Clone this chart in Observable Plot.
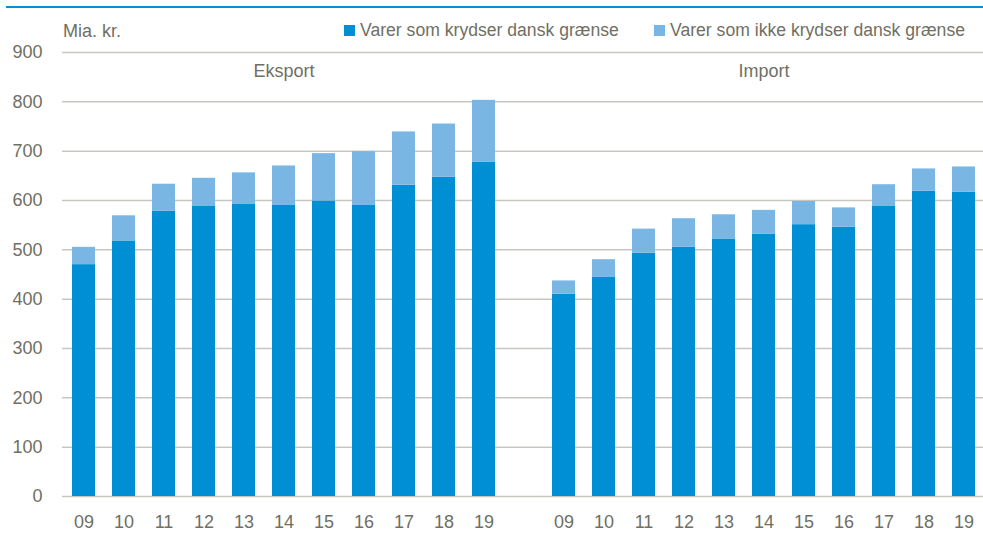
<!DOCTYPE html>
<html>
<head>
<meta charset="utf-8">
<script src="https://cdn.jsdelivr.net/npm/d3@7"></script>
<script src="https://cdn.jsdelivr.net/npm/@observablehq/plot@0.6"></script>
<style>
  body { margin: 0; background: #fff; }
  #wrap { position: relative; width: 983px; height: 533px; font-family: "Liberation Sans Narrow", "Arial Narrow", "Liberation Sans", sans-serif; color: #706f63; }
  #topline { position: absolute; left: 6px; right: 0; top: 6px; height: 2px; background: #0090d4; }
  #unit { position: absolute; left: 63px; top: 20px; font-size: 18px; line-height: 22px; }
  .leg { position: absolute; top: 19px; font-size: 17.6px; line-height: 22px; white-space: nowrap; display: flex; align-items: center; }
  .sw { display: inline-block; width: 11px; height: 11px; margin-right: 5px; }
</style>
</head>
<body>
<div id="wrap">
  <div id="topline"></div>
  <div id="unit">Mia. kr.</div>
  <div class="leg" id="leg1" style="left:344px"><span class="sw" style="background:#008fd5"></span><span>Varer som krydser dansk grænse</span></div>
  <div class="leg" id="leg2" style="left:654px"><span class="sw" style="background:#7ab6e3"></span><span>Varer som ikke krydser dansk grænse</span></div>
</div>
<script>
// Categories
const years = ["09", "10", "11", "12", "13", "14", "15", "16", "17", "18", "19"];
const groups = ["Eksport", "Import"];
const seriesNames = ["Varer som krydser dansk grænse", "Varer som ikke krydser dansk grænse"];
const yTicks = [0, 100, 200, 300, 400, 500, 600, 700, 800, 900];

// Values (mia. kr.)
const eksportCross    = [470, 518, 578, 589, 593, 591, 599, 591, 631, 647, 678];
const eksportNonCross = [35, 51, 55, 56, 63, 79, 96, 108, 108, 108, 125];
const importCross     = [410, 445, 493, 505, 522, 532, 551, 546, 589, 619, 617];
const importNonCross  = [27, 35, 49, 58, 49, 48, 47, 39, 43, 45, 51];

const colors = ["#008fd5", "#7ab6e3"];

// Build table
const rows = [];
const src = [[eksportCross, eksportNonCross], [importCross, importNonCross]];
groups.forEach((g, gi) => {
  years.forEach((yr, i) => {
    seriesNames.forEach((s, si) => {
      rows.push({key: g[0] + yr, group: g, year: yr, series: s, value: src[gi][si][i]});
    });
  });
});
const domainX = [...years.map(y => "E" + y), "gap", ...years.map(y => "I" + y)];
const groupLabels = groups.map(g => ({key: g[0] + years[5], label: g}));
const fmtX = d => d === "gap" ? "" : d.slice(1);

const font = '"Liberation Sans Narrow", "Arial Narrow", "Liberation Sans", sans-serif';

const chart = Plot.plot({
  width: 983,
  height: 533,
  marginLeft: 62,
  marginRight: 0,
  marginTop: 52,
  marginBottom: 37,
  style: {fontFamily: font, fontSize: "18px", color: "#706f63", background: "transparent", overflow: "visible"},
  x: {domain: domainX, range: [61.4, 986], paddingInner: 0.43, paddingOuter: 0.215, tickFormat: fmtX, label: null},
  y: {domain: [0, 900], ticks: yTicks, label: null},
  color: {domain: seriesNames, range: colors},
  marks: [
    Plot.ruleY(yTicks, {stroke: "#c8c7bf", strokeWidth: 1.5}),
    Plot.barY(rows, Plot.stackY({x: "key", y: "value", fill: "series", order: seriesNames})),
    Plot.text(groupLabels, {x: "key", y: 862, text: "label", fill: "#706f63", fontSize: 18}),
    Plot.axisY({ticks: yTicks, tickSize: 0, tickPadding: 20, fontSize: 18, fill: "#706f63", label: null}),
    Plot.axisX({tickSize: 0, tickPadding: 19, fontSize: 18, fill: "#706f63", tickFormat: fmtX, label: null})
  ]
});
document.getElementById("wrap").appendChild(chart);
chart.style.position = "absolute";
chart.style.left = "0";
chart.style.top = "0";
</script>
</body>
</html>
